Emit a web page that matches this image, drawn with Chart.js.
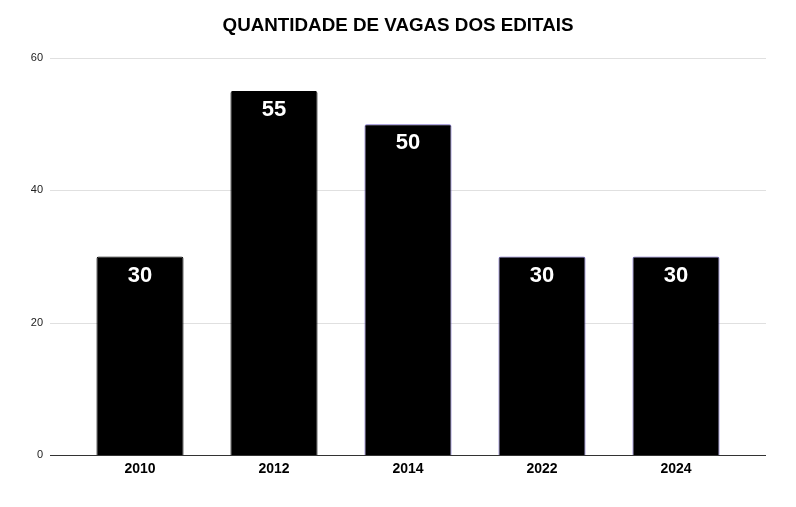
<!DOCTYPE html>
<html>
<head>
<meta charset="utf-8">
<script src="https://cdn.jsdelivr.net/npm/chart.js@4"></script>
<style>
  html, body { margin: 0; padding: 0; background: #fff; }
  #wrap { width: 796px; height: 507px; }
</style>
</head>
<body>
<div id="wrap"><canvas id="vagasChart"></canvas></div>
<script>
// dados do gráfico
const titulo = 'QUANTIDADE DE VAGAS DOS EDITAIS';
const anos = ['2010', '2012', '2014', '2022', '2024'];
const vagas = [30, 55, 50, 30, 30];
const bordas = ['#000000', '#000000', '#6f5fc4', '#6f5fc4', '#6f5fc4'];
const yTicks = [0, 20, 40, 60];

const fonte = '"Liberation Sans", Arial, sans-serif';

// título centralizado na página inteira
const tituloPlugin = {
  id: 'titulo',
  afterDraw(chart) {
    const { ctx, width } = chart;
    ctx.save();
    ctx.fillStyle = '#000000';
    ctx.font = 'bold 18.8px ' + fonte;
    ctx.textAlign = 'center';
    ctx.textBaseline = 'middle';
    ctx.fillText(titulo, width / 2, 26);
    ctx.restore();
  }
};

// linhas de grade mais largas que a área das barras
const gradePlugin = {
  id: 'grade',
  beforeDatasetsDraw(chart) {
    const { ctx, chartArea, scales } = chart;
    const x0 = chartArea.left - 23, x1 = chartArea.right + 23;
    ctx.save();
    yTicks.forEach(v => {
      const y = Math.round(scales.y.getPixelForValue(v)) + 0.5;
      ctx.strokeStyle = v === 0 ? '#333333' : '#e0e0e0';
      ctx.lineWidth = 1;
      ctx.beginPath();
      ctx.moveTo(x0, y);
      ctx.lineTo(x1, y);
      ctx.stroke();
    });
    ctx.restore();
  }
};

// rótulos brancos no topo das barras
const rotulosPlugin = {
  id: 'rotulos',
  afterDatasetsDraw(chart) {
    const { ctx } = chart;
    const meta = chart.getDatasetMeta(0);
    ctx.save();
    ctx.fillStyle = '#ffffff';
    ctx.font = 'bold 22px ' + fonte;
    ctx.textAlign = 'center';
    ctx.textBaseline = 'middle';
    meta.data.forEach((bar, i) => {
      ctx.fillText(String(vagas[i]), bar.x, bar.y + 19);
    });
    ctx.restore();
  }
};

const ctx = document.getElementById('vagasChart').getContext('2d');
const vagasChart = new Chart(ctx, {
  type: 'bar',
  data: {
    labels: anos,
    datasets: [{
      label: 'Vagas',
      data: vagas,
      backgroundColor: '#000000',
      borderColor: bordas,
      borderWidth: 1,
      borderRadius: 2,
      borderSkipped: 'bottom',
      barPercentage: 0.65,
      categoryPercentage: 1
    }]
  },
  options: {
    responsive: true,
    maintainAspectRatio: false,
    animation: false,
    layout: { padding: { left: 0, right: 53, top: 58, bottom: 0 } },
    plugins: {
      legend: { display: false },
      tooltip: { enabled: false },
      title: { display: false }
    },
    scales: {
      y: {
        min: 0,
        max: 60,
        afterFit(scale) { scale.width = 73; },
        afterBuildTicks(scale) { scale.ticks = yTicks.map(v => ({ value: v })); },
        grid: { display: false, drawTicks: false },
        border: { display: false },
        ticks: {
          padding: 30,
          color: '#222222',
          font: { family: fonte, size: 11 }
        }
      },
      x: {
        afterFit(scale) { scale.height = 52; },
        grid: { display: false, drawTicks: false },
        border: { display: false },
        ticks: {
          padding: 6,
          color: '#000000',
          font: { family: fonte, size: 14, weight: 'bold' }
        }
      }
    }
  },
  plugins: [gradePlugin, rotulosPlugin, tituloPlugin]
});
</script>
</body>
</html>
